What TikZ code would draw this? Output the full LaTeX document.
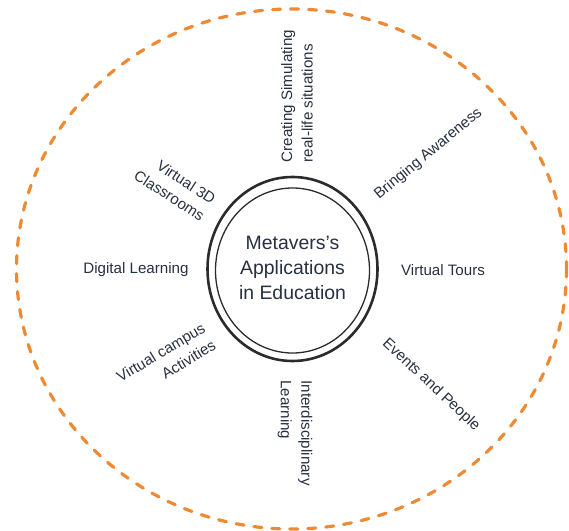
\documentclass[tikz,border=0pt]{standalone}
\usepackage{fontspec}
\setmainfont{Liberation Sans}
\usetikzlibrary{positioning}
\definecolor{dashorange}{HTML}{EE8A34}
\definecolor{inktext}{HTML}{263040}
\definecolor{ringgray}{HTML}{2B2B2B}

\begin{document}
\begin{tikzpicture}[x=1bp, y=-1bp,
    apptext/.style={text=inktext, font=\fontsize{15.2}{20.5}\selectfont, inner sep=0pt},
    hubtext/.style={text=inktext, font=\fontsize{19.5}{25}\selectfont, align=center, inner sep=0pt}]
                \useasboundingbox (0,0) rectangle (569,531);

                % outer dashed ring
                \draw[dashorange, line width=3.2bp, line cap=round, dash pattern=on 8bp off 10bp]
                    (291.5,269) ellipse [x radius=275, y radius=260];

                % hub
                \draw[ringgray, line width=2.6bp] (292.5,269) ellipse [x radius=85, y radius=92];
                \draw[ringgray, line width=1.3bp] (292.5,270.5) ellipse [x radius=77, y radius=82.5];
                \node[hubtext] (hub) at (292.5,268) {Metavers's\\Applications\\in Education};

                % applications around the hub
                \node[apptext, align=left, rotate=90] (simulating) at (297,96) {Creating Simulating\\real-life situations};
                \node[apptext, rotate=39.5] (awareness) at (428.5,154) {Bringing Awareness};
                \node[apptext] (tours) at (443,270) {Virtual Tours};
                \node[apptext, rotate=-43] (events) at (431,385) {Events and People};
                \node[apptext, align=left, rotate=-90] (interdisc) at (295,433) {Interdisciplinary\\Learning};
                \node[apptext, align=right, rotate=31] (campus) at (166,361) {Virtual campus\\Activities};
                \node[apptext] (digital) at (136,270) {Digital Learning};
                \node[apptext, align=right, rotate=-33] (classrooms) at (175,187) {Virtual 3D\\Classrooms};
            \end{tikzpicture}
\end{document}
